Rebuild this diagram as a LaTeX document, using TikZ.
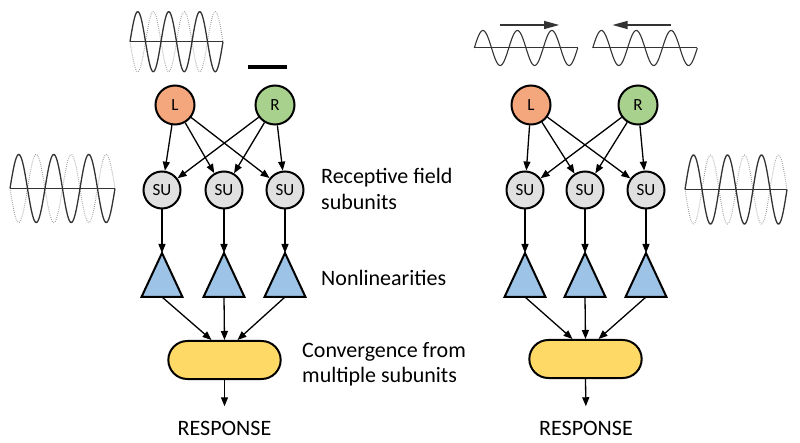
\documentclass[tikz,border=0pt]{standalone}
\usepackage{fontspec}
\setmainfont{Carlito}
\usetikzlibrary{arrows.meta,shapes.misc,calc}
\definecolor{lorange}{HTML}{F4A77C}
\definecolor{rgreen}{HTML}{A9D18E}
\definecolor{sugray}{HTML}{E0E0E0}
\definecolor{triblue}{HTML}{9DC3E6}
\definecolor{boxyellow}{HTML}{FFD966}
\definecolor{wavecol}{HTML}{333333}
\begin{document}
\begin{tikzpicture}[x=1pt,y=-1pt,
  lrnode/.style={circle, draw=black, line width=2pt, minimum size=39pt, inner sep=0pt, font=\fontsize{17}{19}\selectfont},
  sunode/.style={circle, draw=black, line width=2pt, fill=sugray, minimum size=37pt, inner sep=0pt, font=\fontsize{17}{19}\selectfont},
  conn/.style={-{Triangle[length=9pt,width=7pt]}, line width=1.3pt},
  tribox/.style={minimum width=41pt, minimum height=44pt, inner sep=0pt, outer sep=0pt},
  trishape/.style={fill=triblue, draw=black, line width=2pt, line join=miter},
  sumbox/.style={rounded rectangle, draw=black, line width=2pt, fill=boxyellow, minimum width=119pt, minimum height=38pt},
  sidetext/.style={font=\fontsize{22}{25.5}\selectfont, align=left, anchor=west, inner sep=0pt},
  resptext/.style={font=\fontsize{22}{25}\selectfont},
  wavesolid/.style={draw=wavecol, line width=1.3pt},
  wavedot/.style={draw=gray!80, line width=1pt, dash pattern=on 0.7pt off 1.3pt},
  axisline/.style={draw=wavecol, line width=1.2pt},
  bigarrow/.style={draw=wavecol, line width=2.8pt, -{Triangle[length=16pt,width=7.5pt]}}
]
\useasboundingbox (0,0) rectangle (800,443);

% ---------------- left diagram ----------------
\node[lrnode, fill=lorange] (L1) at (175,105) {L};
\node[lrnode, fill=rgreen] (R1) at (275,105) {R};
\node[sunode] (s11) at (162,190) {SU};
\node[sunode] (s12) at (224,190) {SU};
\node[sunode] (s13) at (285,190) {SU};
\node[tribox] (t11) at (162,275) {};
\node[tribox] (t12) at (224,275) {};
\node[tribox] (t13) at (285,275) {};
\foreach \t in {t11,t12,t13}
  \draw[trishape] (\t.south west) -- (\t.north) -- (\t.south east) -- cycle;
\node[sumbox] (b1) at (224.5,360) {};
\node[resptext] (resp1) at (224.5,428) {RESPONSE};

\foreach \s in {s11,s12,s13}{
  \draw[conn] (L1) -- (\s);
  \draw[conn] (R1) -- (\s);
}
\draw[conn] (s11) -- (t11.north);
\draw[conn] (s12) -- (t12.north);
\draw[conn] (s13) -- (t13.north);
\draw[conn] (t11.south) -- ($(b1.north)+(-13,0)$);
\draw[conn] (t12.south) -- (b1.north);
\draw[conn] (t13.south) -- ($(b1.north)+(13,0)$);
\draw[conn, shorten >=11pt] (b1.south) -- (resp1.north);

% ---------------- right diagram ----------------
\node[lrnode, fill=lorange] (L2) at (531,105) {L};
\node[lrnode, fill=rgreen] (R2) at (638,105) {R};
\node[sunode] (s21) at (525,190) {SU};
\node[sunode] (s22) at (585,190) {SU};
\node[sunode] (s23) at (646,190) {SU};
\node[tribox] (t21) at (525,275) {};
\node[tribox] (t22) at (585,275) {};
\node[tribox] (t23) at (646,275) {};
\foreach \t in {t21,t22,t23}
  \draw[trishape] (\t.south west) -- (\t.north) -- (\t.south east) -- cycle;
\node[sumbox] (b2) at (585.5,359) {};
\node[resptext] (resp2) at (586,428) {RESPONSE};

\foreach \s in {s21,s22,s23}{
  \draw[conn] (L2) -- (\s);
  \draw[conn] (R2) -- (\s);
}
\draw[conn] (s21) -- (t21.north);
\draw[conn] (s22) -- (t22.north);
\draw[conn] (s23) -- (t23.north);
\draw[conn] (t21.south) -- ($(b2.north)+(-13,0)$);
\draw[conn] (t22.south) -- (b2.north);
\draw[conn] (t23.south) -- ($(b2.north)+(13,0)$);
\draw[conn, shorten >=11pt] (b2.south) -- (resp2.north);

% ---------------- labels ----------------
\node[sidetext] (lab1) at (321,189) {Receptive field\\subunits};
\node[sidetext] (lab2) at (321,278) {Nonlinearities};
\node[sidetext] (lab3) at (302,364) {Convergence from\\multiple subunits};

% ---------------- stimulus waves ----------------
% top-left counterphase grating
\draw[wavedot] plot[domain=0:93, samples=150] ({130+\x},{41.7+30*sin(\x*11.6129)});
\draw[wavesolid] plot[domain=0:93, samples=150] ({130+\x},{41.7-30*sin(\x*11.6129)});
\draw[axisline] (130,41.7) -- (223,41.7);
\draw[line width=4pt, black] (248,66.7) -- (287,66.7);

% left side grating
\draw[wavedot] plot[domain=0:105, samples=160] ({10+\x},{188.5+34*sin(\x*10.2857)});
\draw[wavesolid] plot[domain=0:105, samples=160] ({10+\x},{188.5-34*sin(\x*10.2857)});
\draw[axisline] (10,188.5) -- (115,188.5);

% right side grating
\draw[wavedot] plot[domain=0:102, samples=160] ({685+\x},{189.5+34.5*sin(\x*10.5882)});
\draw[wavesolid] plot[domain=0:102, samples=160] ({685+\x},{189.5-34.5*sin(\x*10.5882)});
\draw[axisline] (685,189.5) -- (787,189.5);

% top-right drifting gratings
\draw[wavesolid, line width=1.1pt] plot[domain=0:103.4, samples=150] ({474.3+\x},{48-17.5*sin(\x*10.4449)});
\draw[axisline, line width=1pt] (474.3,48) -- (577.7,48);
\draw[wavesolid, line width=1.1pt] plot[domain=0:104.6, samples=150] ({592.7+\x},{48-17.5*sin(\x*10.3250)});
\draw[axisline, line width=1pt] (592.7,48) -- (697.3,48);
\draw[bigarrow] (500,25) -- (560,25);
\draw[bigarrow] (671,25) -- (611.7,25);
\end{tikzpicture}
\end{document}
